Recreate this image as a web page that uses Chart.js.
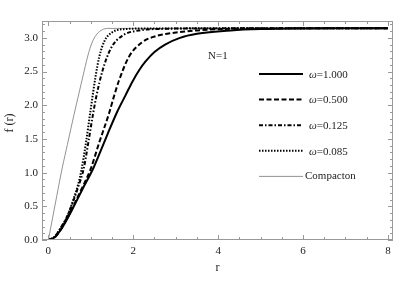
<!DOCTYPE html>
<html>
<head>
<meta charset="utf-8">
<script src="https://cdn.jsdelivr.net/npm/chart.js@4/dist/chart.umd.min.js"></script>
<style>
  html, body { margin: 0; padding: 0; background: #fff; }
  #wrap { width: 400px; height: 300px; }
</style>
</head>
<body>
<div id="wrap"><canvas id="c"></canvas></div>
<script>
// profile f(r)
const r_w1000 = [0, 0.15, 0.3, 0.45, 0.6, 0.8, 1.07, 1.23, 1.4, 1.62, 1.82, 1.98, 2.15, 2.29, 2.5, 2.75, 3.1, 3.5, 4.3, 5, 6, 7, 8];
const f_w1000 = [0, 0.04, 0.16, 0.32, 0.50, 0.75, 1.08, 1.32, 1.58, 1.90, 2.15, 2.35, 2.53, 2.65, 2.79, 2.90, 3.00, 3.06, 3.11, 3.13, 3.139, 3.141, 3.1416];

const r_w0500 = [0, 0.15, 0.3, 0.45, 0.6, 0.8, 1.0, 1.2, 1.43, 1.54, 1.66, 1.9, 2.2, 2.5, 2.8, 3.5, 4.3, 5, 8];
const f_w0500 = [0, 0.04, 0.16, 0.33, 0.52, 0.78, 1.06, 1.45, 1.88, 2.12, 2.36, 2.72, 2.93, 3.02, 3.06, 3.11, 3.135, 3.14, 3.1416];

const r_w0125 = [0, 0.15, 0.3, 0.45, 0.6, 0.72, 0.83, 0.95, 1.05, 1.13, 1.27, 1.47, 1.74, 2.13, 2.8, 3.5, 8];
const f_w0125 = [0, 0.05, 0.19, 0.36, 0.60, 0.82, 1.05, 1.48, 1.86, 2.13, 2.50, 2.84, 3.03, 3.11, 3.135, 3.14, 3.1416];

const r_w0085 = [0, 0.15, 0.3, 0.45, 0.6, 0.7, 0.78, 0.88, 1.0, 1.11, 1.2, 1.32, 1.5, 1.8, 2.5, 8];
const f_w0085 = [0, 0.05, 0.19, 0.36, 0.62, 0.82, 1.04, 1.42, 1.95, 2.42, 2.72, 2.95, 3.08, 3.13, 3.14, 3.1416];

const r_comp = [0, 0.1, 0.2, 0.33, 0.45, 0.6, 0.7, 0.84, 0.95, 1.05, 1.15, 1.27, 1.4, 8];
const f_comp = [0, 0.33, 0.66, 1.08, 1.42, 1.85, 2.12, 2.50, 2.78, 2.96, 3.06, 3.12, 3.14, 3.1416];

const seriesNames = ['\u03c9=1.000', '\u03c9=0.500', '\u03c9=0.125', '\u03c9=0.085', 'Compacton'];
const xTicks = [0, 2, 4, 6, 8];
const yTicks = [0, 0.5, 1.0, 1.5, 2.0, 2.5, 3.0];

function pts(rs, fs) {
  return rs.map((r, i) => ({ x: r, y: fs[i] }));
}

const styles = [
  { color: '#000', width: 2, dash: [] },
  { color: '#000', width: 2, dash: [5, 2.5] },
  { color: '#000', width: 2, dash: [4, 2, 1.5, 2] },
  { color: '#000', width: 2, dash: [1.5, 1.5] },
  { color: '#777', width: 0.8, dash: [] }
];

const allData = [
  pts(r_w1000, f_w1000),
  pts(r_w0500, f_w0500),
  pts(r_w0125, f_w0125),
  pts(r_w0085, f_w0085),
  pts(r_comp, f_comp)
];

const datasets = allData.map((d, i) => ({
  label: seriesNames[i],
  data: d,
  showLine: true,
  borderColor: styles[i].color,
  borderWidth: styles[i].width,
  borderDash: styles[i].dash,
  pointRadius: 0,
  cubicInterpolationMode: 'monotone',
  fill: false
}));

const serif = "'Liberation Serif', 'DejaVu Serif', serif";

// frame, inward ticks, legend and labels drawn Mathematica-style
const framePlugin = {
  id: 'frame',
  afterDraw(chart) {
    const ctx = chart.ctx;
    const a = chart.chartArea;
    const xs = chart.scales.x, ys = chart.scales.y;
    ctx.save();
    ctx.strokeStyle = '#999';
    ctx.lineWidth = 1;
    ctx.strokeRect(a.left + 0.5, a.top + 0.5, a.right - a.left - 1, a.bottom - a.top - 1);
    ctx.beginPath();
    for (let v = 0; v <= 8.001; v += 0.5) {
      const px = Math.round(xs.getPixelForValue(v)) + 0.5;
      const len = (Math.abs(v % 2) < 0.01) ? 5 : 3;
      ctx.moveTo(px, a.bottom); ctx.lineTo(px, a.bottom - len);
      ctx.moveTo(px, a.top); ctx.lineTo(px, a.top + len);
    }
    for (let k = 0; k <= 32; k++) {
      const v = k * 0.1;
      const py = Math.round(ys.getPixelForValue(v)) + 0.5;
      const len = (k % 5 === 0) ? 5 : 3;
      ctx.moveTo(a.left, py); ctx.lineTo(a.left + len, py);
      ctx.moveTo(a.right, py); ctx.lineTo(a.right - len, py);
    }
    ctx.stroke();

    // legend
    ctx.font = '11px ' + serif;
    ctx.textBaseline = 'middle';
    ctx.fillStyle = '#222';
    const lx0 = 259, lx1 = 303, tx = 309;
    seriesNames.forEach((name, i) => {
      const y = 74 + i * 25.6;
      ctx.strokeStyle = styles[i].color;
      ctx.lineWidth = styles[i].width;
      ctx.setLineDash(styles[i].dash);
      ctx.beginPath();
      ctx.moveTo(lx0, y); ctx.lineTo(lx1, y);
      ctx.stroke();
      ctx.setLineDash([]);
      if (i < 4) {
        ctx.font = 'italic 11px ' + serif;
        ctx.fillText('\u03c9', tx, y + 1);
        const w = ctx.measureText('\u03c9').width;
        ctx.font = '11px ' + serif;
        ctx.fillText(name.slice(1), tx + w, y + 1);
      } else {
        ctx.fillText(name, tx - 4, y);
      }
    });

    ctx.font = '11px ' + serif;
    ctx.fillText('N=1', 208, 56);

    // axis titles
    ctx.textAlign = 'center';
    ctx.font = '12px ' + serif;
    ctx.fillText('r', (a.left + a.right) / 2, 268);
    ctx.translate(10, 123);
    ctx.rotate(-Math.PI / 2);
    ctx.fillText('f (r)', 0, 0);
    ctx.restore();
  }
};

new Chart(document.getElementById('c'), {
  type: 'scatter',
  data: { datasets: datasets },
  options: {
    responsive: true,
    maintainAspectRatio: false,
    animation: false,
    layout: { padding: { left: 0, right: 7, top: 21, bottom: 0 } },
    plugins: { legend: { display: false }, tooltip: { enabled: false } },
    scales: {
      x: {
        type: 'linear',
        min: -0.15,
        max: 8.12,
        grid: { display: false, drawTicks: false },
        border: { display: false },
        afterBuildTicks: s => { s.ticks = xTicks.map(v => ({ value: v })); },
        afterFit: s => { s.height = 60; },
        ticks: { padding: 5, color: '#222', font: { family: serif, size: 11 }, maxRotation: 0,
          callback: v => String(v) }
      },
      y: {
        type: 'linear',
        min: 0,
        max: 3.25,
        grid: { display: false, drawTicks: false },
        border: { display: false },
        afterBuildTicks: s => { s.ticks = yTicks.map(v => ({ value: v })); },
        afterFit: s => { s.width = 42; },
        ticks: { padding: 4, color: '#222', font: { family: serif, size: 11 },
          callback: v => Number(v).toFixed(1) }
      }
    }
  },
  plugins: [framePlugin]
});
</script>
</body>
</html>
